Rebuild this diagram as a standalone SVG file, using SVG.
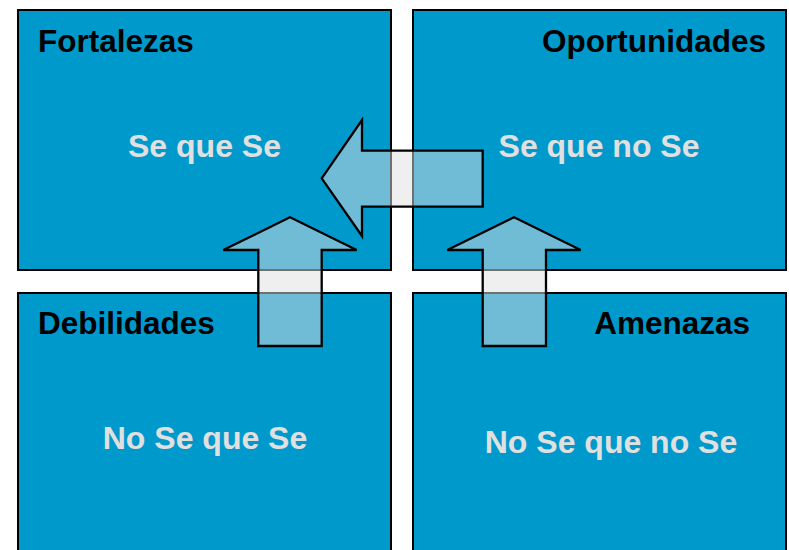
<svg xmlns="http://www.w3.org/2000/svg" width="789" height="550" viewBox="0 0 789 550">
<style>
.box{fill:#0099CC;stroke:#000;stroke-width:2}
.title{font-family:"Liberation Sans",Arial,sans-serif;font-weight:bold;font-size:31.5px;fill:#000}
.body{font-family:"Liberation Sans",Arial,sans-serif;font-weight:bold;font-size:32px;fill:#E0E0E0}
.arrow{fill:#E0E0E0;fill-opacity:0.5;stroke:#000;stroke-width:2.3;stroke-linejoin:miter}
</style>
<rect width="789" height="550" fill="#fff"/>
<g id="fortalezas">
<rect class="box" x="18" y="10" width="373" height="260"/>
<text class="title" x="38" y="51.5">Fortalezas</text>
<text class="body" x="204.5" y="157" text-anchor="middle">Se que Se</text>
</g>
<g id="oportunidades">
<rect class="box" x="413" y="10" width="373" height="260"/>
<text class="title" x="766" y="51.5" text-anchor="end">Oportunidades</text>
<text class="body" x="599" y="157" text-anchor="middle">Se que no Se</text>
</g>
<g id="debilidades">
<rect class="box" x="18" y="293" width="373" height="270"/>
<text class="title" x="38" y="333.5">Debilidades</text>
<text class="body" x="205" y="448.5" text-anchor="middle">No Se que Se</text>
</g>
<g id="amenazas">
<rect class="box" x="413" y="293" width="373" height="270"/>
<text class="title" x="750" y="333.5" text-anchor="end">Amenazas</text>
<text class="body" x="611" y="452.5" text-anchor="middle">No Se que no Se</text>
</g>
<g id="connectors">
<polygon class="arrow" points="321.7,178.3 362,120 362,150.7 482.7,150.7 482.7,206.7 362,206.7 362,236"/>
<polygon class="arrow" points="290,217.3 356.7,250 321.7,250 321.7,346 258.3,346 258.3,250 223.3,250"/>
<polygon class="arrow" points="514,217.3 580.7,250 546,250 546,346 482.7,346 482.7,250 447.3,250"/>
</g>
</svg>
